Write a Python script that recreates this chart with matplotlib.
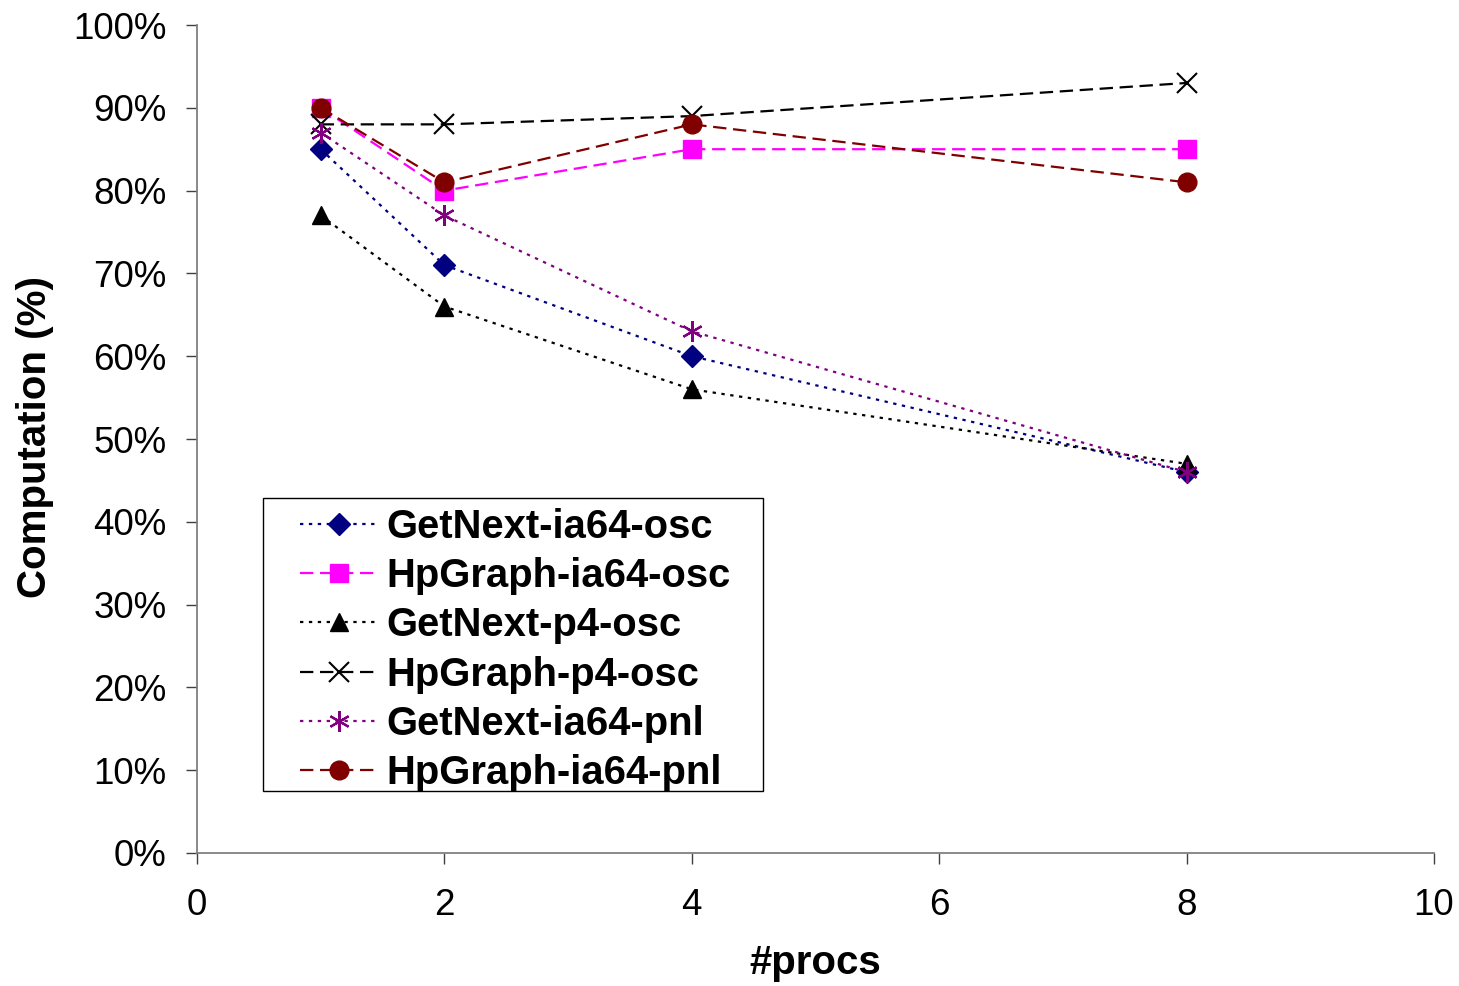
import matplotlib.pyplot as plt
from matplotlib.patches import Rectangle
from matplotlib.ticker import FuncFormatter

plt.rcParams['font.family'] = ['Liberation Sans', 'DejaVu Sans']

procs = [1, 2, 4, 8]
getnext_ia64_osc = [85, 71, 60, 46]
hpgraph_ia64_osc = [90, 80, 85, 85]
getnext_p4_osc = [77, 66, 56, 47]
hpgraph_p4_osc = [88, 88, 89, 93]
getnext_ia64_pnl = [87, 77, 63, 46]
hpgraph_ia64_pnl = [90, 81, 88, 81]

W, H = 1459, 986
fig = plt.figure(figsize=(W / 100, H / 100), dpi=100)
ax = fig.add_axes([197 / W, 1 - 853 / H, (1434 - 197) / W, (853 - 25) / H])

dot = (0, (1.5, 2.5))
dash = (0, (6, 3))
lw = 1.6
ax.plot(procs, getnext_ia64_osc, color='#000080', linestyle=dot, lw=lw,
        marker='D', markersize=11, label='GetNext-ia64-osc')
ax.plot(procs, hpgraph_ia64_osc, color='#FF00FF', linestyle=dash, lw=lw,
        marker='s', markersize=12.5, label='HpGraph-ia64-osc')
ax.plot(procs, getnext_p4_osc, color='black', linestyle=dot, lw=lw,
        marker='^', markersize=13, label='GetNext-p4-osc')
ax.plot(procs, hpgraph_p4_osc, color='black', linestyle=dash, lw=lw,
        marker='x', markersize=14, markeredgewidth=1.5, label='HpGraph-p4-osc')
ax.plot(procs, getnext_ia64_pnl, color='#800080', linestyle=dot, lw=lw,
        marker=(6, 2, 0), markersize=15, markeredgewidth=1.6, label='GetNext-ia64-pnl')
ax.plot(procs, hpgraph_ia64_pnl, color='#800000', linestyle=dash, lw=lw,
        marker='o', markersize=13.5, label='HpGraph-ia64-pnl')

ax.set_xlim(0, 10)
ax.set_ylim(0, 100)
ax.set_xticks(range(0, 11, 2))
ax.set_yticks(range(0, 101, 10))
ax.yaxis.set_major_formatter(FuncFormatter(lambda v, p: f"{int(v)}%"))
ax.tick_params(labelsize=26.5, length=8, width=1, direction='out', color='#404040')
ax.tick_params(axis='y', pad=14)
ax.tick_params(axis='x', pad=17)
ax.spines['top'].set_visible(False)
ax.spines['right'].set_visible(False)
for s in ('left', 'bottom'):
    ax.spines[s].set_color('#808080')
    ax.spines[s].set_linewidth(1.3)

fig.text(815 / W, 1 - 963 / H, '#procs', fontsize=29, fontweight='bold',
         ha='center', va='center')
fig.text(35 / W, 1 - 437 / H, 'Computation (%)', fontsize=29, fontweight='bold',
         ha='center', va='center', rotation=90)

# legend box
fig.patches.append(Rectangle((263 / W, 1 - 791 / H), 500 / W, 293 / H,
                             transform=fig.transFigure, facecolor='white',
                             edgecolor='black', linewidth=1, zorder=5))
leg = fig.legend(loc='upper left', bbox_to_anchor=(300 / W, 1 - 508 / H),
                 prop={'size': 28.8, 'weight': 'bold'}, frameon=False,
                 handlelength=1.95, handletextpad=0.22, labelspacing=0.28,
                 borderpad=0, borderaxespad=0)
leg.set_zorder(6)

fig.savefig('out.png', dpi=100)
